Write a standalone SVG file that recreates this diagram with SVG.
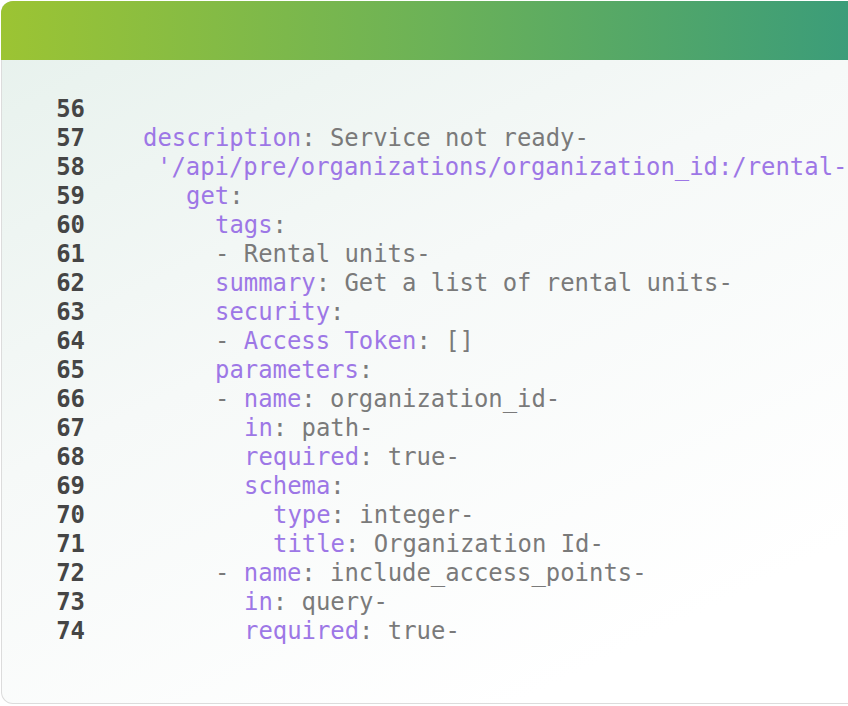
<svg xmlns="http://www.w3.org/2000/svg" width="848" height="706" viewBox="0 0 848 706">
<defs>
<linearGradient id="hd" x1="0" y1="0" x2="1" y2="0"><stop offset="0" stop-color="#9cc433"/><stop offset="0.5" stop-color="#6cb257"/><stop offset="1" stop-color="#3a9c7a"/></linearGradient>
<linearGradient id="bg" x1="0" y1="0" x2="0.6" y2="1"><stop offset="0" stop-color="#e6f1ec"/><stop offset="0.5" stop-color="#f6f9f8"/><stop offset="1" stop-color="#ffffff"/></linearGradient>
<clipPath id="cp"><rect x="1" y="1" width="860" height="703" rx="12"/></clipPath>
<style>
text{font-family:"DejaVu Sans Mono","Liberation Mono",monospace;font-size:23.9px;white-space:pre}
.n{fill:#454545;font-weight:bold;text-anchor:end}
.k{fill:#9d77e6}
.v{fill:#7a7a7a}
</style>
</defs>
<g clip-path="url(#cp)">
<rect x="1" y="1" width="860" height="703" fill="url(#bg)" stroke="#dcdcdc" stroke-width="2" rx="12"/>
<rect x="0" y="0" width="860" height="60" fill="url(#hd)"/>
</g>
<g id="code">
<text class="n" x="85" y="117">56</text>
<text class="n" x="85" y="146">57</text>
<text class="n" x="85" y="175">58</text>
<text class="n" x="85" y="204">59</text>
<text class="n" x="85" y="233">60</text>
<text class="n" x="85" y="262">61</text>
<text class="n" x="85" y="291">62</text>
<text class="n" x="85" y="320">63</text>
<text class="n" x="85" y="349">64</text>
<text class="n" x="85" y="378">65</text>
<text class="n" x="85" y="407">66</text>
<text class="n" x="85" y="436">67</text>
<text class="n" x="85" y="465">68</text>
<text class="n" x="85" y="494">69</text>
<text class="n" x="85" y="523">70</text>
<text class="n" x="85" y="552">71</text>
<text class="n" x="85" y="581">72</text>
<text class="n" x="85" y="610">73</text>
<text class="n" x="85" y="639">74</text>
<text x="143" y="146"><tspan class="k">description</tspan><tspan class="v">: Service not ready-</tspan></text>
<text x="157" y="175" class="k">'/api/pre/organizations/organization_id:/rental-</text>
<text x="186" y="204"><tspan class="k">get</tspan><tspan class="v">:</tspan></text>
<text x="215" y="233"><tspan class="k">tags</tspan><tspan class="v">:</tspan></text>
<text x="215" y="262" class="v">- Rental units-</text>
<text x="215" y="291"><tspan class="k">summary</tspan><tspan class="v">: Get a list of rental units-</tspan></text>
<text x="215" y="320"><tspan class="k">security</tspan><tspan class="v">:</tspan></text>
<text x="215" y="349"><tspan class="v">- </tspan><tspan class="k">Access Token</tspan><tspan class="v">: []</tspan></text>
<text x="215" y="378"><tspan class="k">parameters</tspan><tspan class="v">:</tspan></text>
<text x="215" y="407"><tspan class="v">- </tspan><tspan class="k">name</tspan><tspan class="v">: organization_id-</tspan></text>
<text x="244" y="436"><tspan class="k">in</tspan><tspan class="v">: path-</tspan></text>
<text x="244" y="465"><tspan class="k">required</tspan><tspan class="v">: true-</tspan></text>
<text x="244" y="494"><tspan class="k">schema</tspan><tspan class="v">:</tspan></text>
<text x="273" y="523"><tspan class="k">type</tspan><tspan class="v">: integer-</tspan></text>
<text x="273" y="552"><tspan class="k">title</tspan><tspan class="v">: Organization Id-</tspan></text>
<text x="215" y="581"><tspan class="v">- </tspan><tspan class="k">name</tspan><tspan class="v">: include_access_points-</tspan></text>
<text x="244" y="610"><tspan class="k">in</tspan><tspan class="v">: query-</tspan></text>
<text x="244" y="639"><tspan class="k">required</tspan><tspan class="v">: true-</tspan></text>
</g>
<g id="connectors"/>
</svg>
